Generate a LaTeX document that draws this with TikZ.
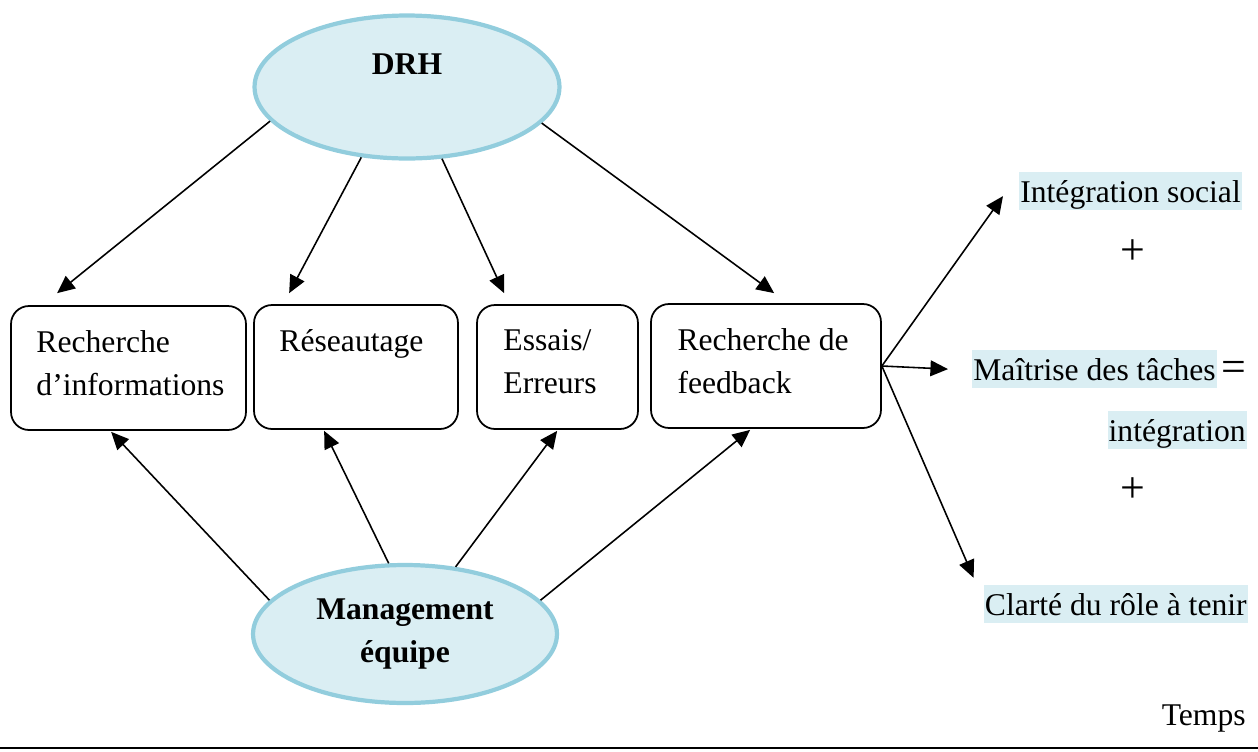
\documentclass[tikz,border=0pt]{standalone}
\usepackage{fontspec}
\setmainfont{Liberation Serif}
\usepackage{xcolor}
\usepackage{tikz}
\usetikzlibrary{positioning, calc, arrows.meta, shapes.geometric}
\definecolor{EllBorder}{RGB}{146,205,221}
\definecolor{EllFill}{RGB}{218,238,243}
\definecolor{HlBlue}{RGB}{218,238,243}
\newcommand{\bodyfont}{\fontsize{18}{24.5}\selectfont}
\tikzset{
    ellnode/.style={
        ellipse, draw=EllBorder, line width=2.4pt, fill=EllFill, inner sep=0pt, font=\bodyfont\bfseries, align=center
    },
    stagebox/.style={
        draw, rounded corners=0.36cm, line width=1pt, minimum height=2.48cm, inner sep=0pt
    },
    stagetext/.style={
        anchor=north west, align=left, inner sep=0pt, font=\bodyfont
    },
    arr/.style={
        -{Triangle[length=10pt, width=9pt]}, line width=0.9pt
    },
    hltext/.style={
        fill=HlBlue, inner xsep=0.02cm, inner ysep=0pt, text height=17pt, text depth=4.6pt, font=\bodyfont
    },
    plaintext/.style={
        inner sep=0pt, font=\bodyfont
    }
}

\begin{document}
\begin{tikzpicture}[x=0.02cm, y=-0.02cm]
\useasboundingbox (0,0) rectangle (1258,751);

% acteurs
\node[ellnode, minimum width=6.1cm, minimum height=2.86cm] (drh) at (407,87) {};
\node[plaintext, font=\bodyfont\bfseries] (drh-txt) at ($(drh.center)+(0,-23)$) {DRH};
\node[ellnode, minimum width=6.08cm, minimum height=2.76cm] (mgt) at (405,634) {Management\\équipe};

% tactiques de socialisation
\node[stagebox, minimum width=4.7cm] (rb1) at (128.5,368) {};
\node[stagebox, minimum width=4.08cm] (rb2) at (356,367) {};
\node[stagebox, minimum width=3.22cm] (rb3) at (557.5,367) {};
\node[stagebox, minimum width=4.6cm] (rb4) at (766,366) {};
\node[stagetext] (rb1-txt) at ($(rb1.north west)+(26,25)$) {Recherche\\d’informations};
\node[stagetext] (rb2-txt) at ($(rb2.north west)+(26,25)$) {Réseautage};
\node[stagetext] (rb3-txt) at ($(rb3.north west)+(27,25)$) {Essais/\\Erreurs};
\node[stagetext] (rb4-txt) at ($(rb4.north west)+(27,25)$) {Recherche de\\feedback};

\draw[arr] (drh.194) -- ($(rb1.north west)+(47,-12)$);
\draw[arr] (drh.237) -- ($(rb2.north west)+(36,-11)$);
\draw[arr] (drh.296) -- ($(rb3.north west)+(28,-11)$);
\draw[arr] (drh.345) -- ($(rb4.north west)+(124,-10)$);

\draw[arr] (mgt.166) -- ($(rb1.south west)+(101,1)$);
\draw[arr] (mgt.103) -- ($(rb2.south west)+(71,1)$);
\draw[arr] (mgt.53) -- ($(rb3.south west)+(81,1)$);
\draw[arr] (mgt.14) -- ($(rb4.south west)+(100,1)$);

% resultats
\node[hltext, anchor=base west] (soc) at (1019,202) {Intégration social};
\node[plaintext, font=\fontsize{25}{25}\selectfont] (plus1) at (1133,252) {+};
\node[hltext, anchor=base west] (mt) at (972,380) {Maîtrise des tâches};
\node[plaintext, anchor=base west, font=\fontsize{25}{25}\selectfont] (eq) at (1221,381) {=};
\node[hltext, anchor=base east] (integ) at (1247,441) {intégration};
\node[plaintext, font=\fontsize{25}{25}\selectfont] (plus2) at (1133,490) {+};
\node[hltext, anchor=base east] (clar) at (1248,615) {Clarté du rôle à tenir};
\node[plaintext, anchor=base east] (temps) at (1246,725) {Temps};

\draw[arr] (rb4.east) -- ($(soc.west)+(-16,5)$);
\draw[arr] (rb4.east) -- ($(mt.west)+(-24,0)$);
\draw[arr] (rb4.east) -- ($(clar.north west)+(-10,-7)$);

% axe du temps
\coordinate (axe-g) at (0,748);
\coordinate (axe-d) at (1258,748);
\draw[line width=1.1pt] (axe-g) -- (axe-d);
\end{tikzpicture}
\end{document}
